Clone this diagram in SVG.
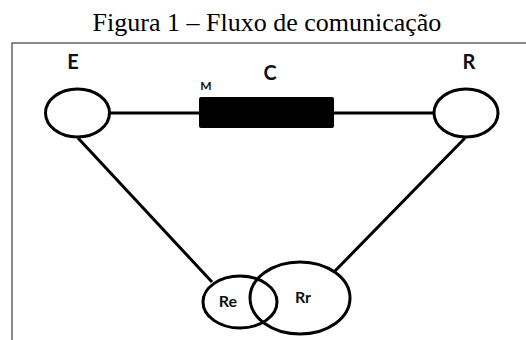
<svg xmlns="http://www.w3.org/2000/svg" width="526" height="340" viewBox="0 0 526 340">
<style>
.title{font-family:"Liberation Serif","Times New Roman",serif;font-size:26px;fill:#000}
.lbl{font-family:Lato,"Liberation Sans",sans-serif;font-weight:bold;fill:#111}
.node{fill:#fff;stroke:#000;stroke-width:3}
.conn{stroke:#000;stroke-width:3;fill:none}
.frame{stroke:#666;stroke-width:1.5;fill:none}
</style>
<rect width="526" height="340" fill="#fff"/>
<text class="title" x="267" y="31" text-anchor="middle">Figura 1 – Fluxo de comunicação</text>
<path class="frame" d="M12,340 V43 H526"/>
<g id="connectors">
<line class="conn" x1="110" y1="113" x2="199" y2="113"/>
<line class="conn" x1="334" y1="113" x2="433" y2="113"/>
<line class="conn" x1="78" y1="138" x2="212" y2="282"/>
<line class="conn" x1="465" y1="138" x2="334" y2="272"/>
</g>
<g id="node-E">
<ellipse class="node" cx="77.5" cy="113" rx="32" ry="24"/>
<text class="lbl" x="73" y="69" font-size="20" text-anchor="middle">E</text>
</g>
<g id="node-R">
<ellipse class="node" cx="466" cy="113" rx="32" ry="24"/>
<text class="lbl" x="469" y="69" font-size="20" text-anchor="middle">R</text>
</g>
<g id="node-C">
<rect x="199" y="97" width="135" height="31" rx="2" fill="#000"/>
<text class="lbl" x="270" y="80" font-size="20" text-anchor="middle">C</text>
<text class="lbl" x="206" y="90" font-size="12" text-anchor="middle">M</text>
</g>
<g id="node-Re">
<ellipse cx="240" cy="302" rx="37" ry="26" fill="none" stroke="#000" stroke-width="3"/>
<text class="lbl" x="228" y="307" font-size="16" text-anchor="middle">Re</text>
</g>
<g id="node-Rr">
<ellipse cx="300" cy="298" rx="50" ry="36" fill="none" stroke="#000" stroke-width="3"/>
<text class="lbl" x="303" y="303" font-size="16" text-anchor="middle">Rr</text>
</g>
</svg>
